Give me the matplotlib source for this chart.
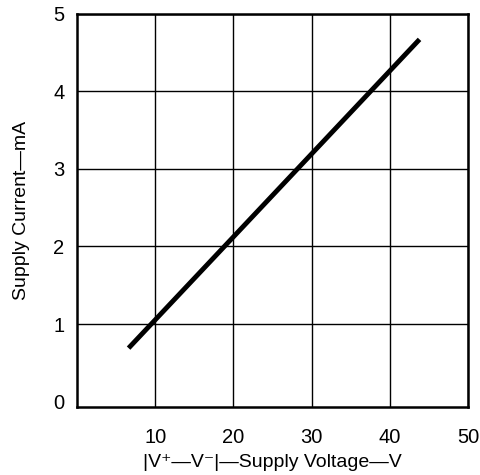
import matplotlib
matplotlib.use('Agg')
import matplotlib.pyplot as plt

# data
volt = [6.6, 43.8]
current = [0.69, 4.67]
xticks = [10, 20, 30, 40, 50]
yticks = [0, 1, 2, 3, 4, 5]

plt.rcParams['font.family'] = ['Liberation Sans', 'DejaVu Sans']

fig = plt.figure(figsize=(4.81, 4.75), dpi=100)
ax = fig.add_axes([0.160, 0.143, 0.813, 0.828])

ax.plot(volt, current, color='black', linewidth=3.5, solid_capstyle='butt')

ax.set_xlim(0, 50)
ax.set_ylim(-0.07, 4.96)
ax.set_xticks(xticks)
ax.set_yticks(yticks)
ax.grid(True, color='black', linewidth=1)
# no grid line at 0, only the frame
ax.get_ygridlines()[0].set_visible(False)
ax.tick_params(length=0, labelsize=14.5)
ax.tick_params(axis='x', pad=15)
ax.tick_params(axis='y', pad=9)
for s in ax.spines.values():
    s.set_linewidth(1.8)

ax.set_xlabel('|V\u207a\u2014V\u207b|\u2014Supply Voltage\u2014V', fontsize=14, labelpad=5)
ax.set_ylabel('Supply Current\u2014mA', fontsize=14, labelpad=17)

fig.savefig('out.png', dpi=100)
